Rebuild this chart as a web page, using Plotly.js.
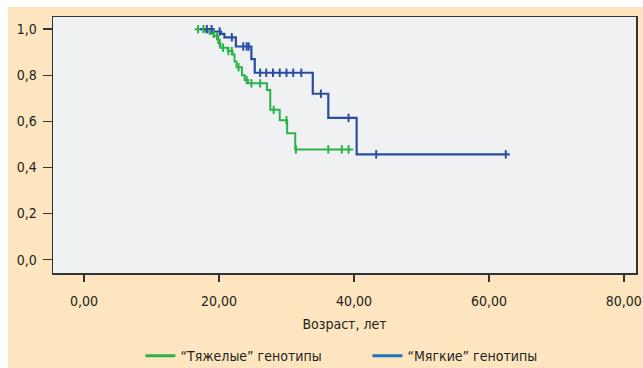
<!DOCTYPE html>
<html><head><meta charset="utf-8">
<script src="https://cdn.plot.ly/plotly-3.0.1.min.js"></script>
<style>html,body{margin:0;padding:0;background:#fff;}#chart{position:absolute;left:8px;top:7px;width:635px;height:361px;}</style>
</head><body><div id="chart"></div>
<script>
// "Тяжелые" генотипы (green)
const severeTimes = [16.4, 17.9, 18.6, 19.3, 19.9, 20.2, 21.3, 22.0, 22.3, 22.6, 23.4, 23.8, 24.3, 27.1, 27.6, 29.0, 30.1, 31.3, 39.9];
const severeSurv  = [1.0, 0.99, 0.98, 0.97, 0.94, 0.92, 0.905, 0.89, 0.86, 0.835, 0.80, 0.78, 0.765, 0.736, 0.65, 0.605, 0.548, 0.478, 0.478];
const severeCensored = [16.9, 17.7, 19.2, 19.7, 20.1, 20.6, 21.4, 21.9, 22.9, 24.1, 24.8, 26.1, 28.1, 30.0, 31.4, 36.2, 38.2, 39.2];
// "Мягкие" генотипы (blue)
const mildTimes = [17.2, 19.2, 20.3, 20.8, 22.5, 24.8, 25.3, 33.9, 36.2, 40.4, 63.1];
const mildSurv  = [1.0, 0.99, 0.98, 0.965, 0.925, 0.87, 0.811, 0.72, 0.615, 0.457, 0.457];
const mildCensored = [18.2, 18.9, 20.1, 21.9, 23.6, 24.1, 24.4, 26.1, 27.0, 28.0, 29.0, 30.0, 31.0, 32.2, 35.1, 39.2, 43.3, 62.5];

const xTicks = [0, 20, 40, 60, 80];
const yTicks = [0, 0.2, 0.4, 0.6, 0.8, 1.0];
const seriesNames = ['\u201cТяжелые\u201d генотипы', '\u201cМягкие\u201d генотипы'];

function survAt(times, surv, t){
  let s = surv[0];
  for (let i=0;i<times.length;i++){ if (t >= times[i]) s = surv[i]; }
  return s;
}
const green = '#2bb24a', blue = '#2a4da3';
const font = 'Liberation Sans Narrow, Arial Narrow, DejaVu Sans Condensed, sans-serif';
const traces = [
  {x: severeTimes, y: severeSurv, mode:'lines', line:{shape:'hv', color:green, width:2}, showlegend:false, hoverinfo:'skip'},
  {x: mildTimes, y: mildSurv, mode:'lines', line:{shape:'hv', color:blue, width:2.2}, showlegend:false, hoverinfo:'skip'},
  {x: severeCensored, y: severeCensored.map(t=>survAt(severeTimes,severeSurv,t)), mode:'markers',
   marker:{symbol:'line-ns-open', size:6, color:green, line:{color:green, width:2}}, showlegend:false},
  {x: mildCensored, y: mildCensored.map(t=>survAt(mildTimes,mildSurv,t)), mode:'markers',
   marker:{symbol:'line-ns-open', size:6, color:blue, line:{color:blue, width:2}}, showlegend:false},
  {x:[null], y:[null], mode:'lines', name: seriesNames[0], line:{color:'#2bb24a', width:3}},
  {x:[null], y:[null], mode:'lines', name: seriesNames[1], line:{color:'#1f72bf', width:3}}
];
const layout = {
  width:635, height:361,
  margin:{l:45, r:7, t:10, b:95, autoexpand:false},
  paper_bgcolor:'#fde5bf', plot_bgcolor:'#f0f1f3',
  separators:', ',
  font:{family:font, size:14, color:'#231f20'},
  xaxis:{range:[-4.6, 81.8], tickvals:xTicks, tickformat:'.2f', ticks:'outside', ticklen:7, tickwidth:1.5, tickcolor:'#333',
    showline:true, linecolor:'#333', linewidth:1.5, mirror:true, showgrid:false, zeroline:false,
    ticklabelstandoff:8, automargin:false,
    title:{text:'Возраст, лет', font:{family:font, size:14, color:'#231f20'}, standoff:11}},
  yaxis:{range:[-0.058, 1.053], tickvals:yTicks, tickformat:'.1f', ticks:'outside', ticklen:9, tickwidth:1.5, tickcolor:'#333',
    showline:true, linecolor:'#333', linewidth:1.5, mirror:true, showgrid:false, zeroline:false, ticklabelstandoff:3, automargin:false},
  legend:{orientation:'h', x:0.15, xanchor:'left', y:-0.325, yanchor:'middle', bgcolor:'rgba(0,0,0,0)',
    font:{family:font, size:14, color:'#231f20'}, entrywidth:182, entrywidthmode:'pixels'},
  showlegend:true
};
Plotly.newPlot('chart', traces, layout, {displayModeBar:false, staticPlot:true});
</script></body></html>
